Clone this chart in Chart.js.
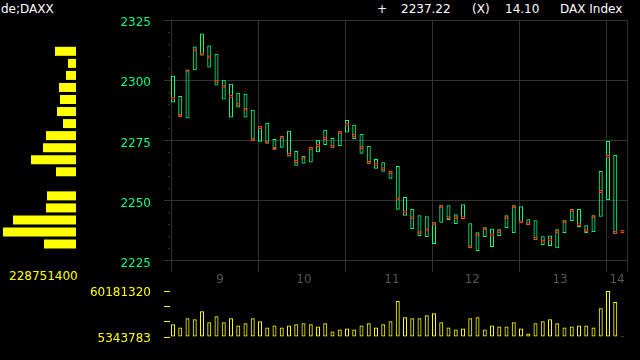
<!DOCTYPE html>
<html><head><meta charset="utf-8">
<script src="https://cdn.jsdelivr.net/npm/chart.js@4.4.1/dist/chart.umd.min.js"></script>
<style>
html,body{margin:0;padding:0;background:#000;width:640px;height:360px;overflow:hidden;}
canvas{position:absolute;}
.t{position:absolute;font:12px "DejaVu Sans";white-space:pre;line-height:14px;color:#fff;}
</style></head><body>
<div class="t" id="sym" style="left:1px;top:2px"></div>
<div class="t" id="h1" style="left:377px;top:2px"></div>
<div class="t" id="h2" style="left:401px;top:2px"></div>
<div class="t" id="h3" style="left:472px;top:2px"></div>
<div class="t" id="h4" style="left:505px;top:2px"></div>
<div class="t" id="h5" style="left:560px;top:2px"></div>
<div class="t" id="pmax" style="left:9px;top:269px;color:#ffff00"></div>
<canvas id="main" width="640" height="290" style="left:0;top:0"></canvas>
<canvas id="prof" width="80" height="290" style="left:0;top:0"></canvas>
<canvas id="vol" width="640" height="80" style="left:0;top:280px"></canvas>
<script>
// ---------------- data ----------------
const symbol = 'de;DAXX';
const indexName = 'DAX Index';
const exchangeFlag = '(X)';
const lastTime = '14.10';

const times = [
 '09:00','09:05','09:10','09:15','09:20','09:25','09:30','09:35','09:40','09:45','09:50','09:55',
 '10:00','10:05','10:10','10:15','10:20','10:25','10:30','10:35','10:40','10:45','10:50','10:55',
 '11:00','11:05','11:10','11:15','11:20','11:25','11:30','11:35','11:40','11:45','11:50','11:55',
 '12:00','12:05','12:10','12:15','12:20','12:25','12:30','12:35','12:40','12:45','12:50','12:55',
 '13:00','13:05','13:10','13:15','13:20','13:25','13:30','13:35','13:40','13:45','13:50','13:55',
 '14:00','14:05','14:10'];

const highs = [
 2301.9,2293.5,2304.4,2314.0,2319.4,2314.4,2311.0,2300.2,2298.5,2294.8,
 2294.4,2287.7,2281.0,2282.3,2275.6,2276.9,2279.0,2270.6,2268.5,2272.3,
 2275.2,2279.4,2276.0,2279.0,2283.5,2281.5,2277.7,2272.7,2267.3,2266.0,
 2262.3,2264.4,2251.5,2246.5,2244.0,2243.5,2241.0,2248.1,2248.1,2244.4,
 2248.5,2240.6,2236.9,2239.0,2238.5,2238.1,2244.0,2248.1,2247.7,2242.3,
 2241.9,2235.2,2235.6,2238.1,2241.9,2246.5,2246.5,2239.8,2244.0,2262.3,
 2274.8,2269.0,2237.22];

const lows = [
 2290.8,2284.8,2284.1,2304.1,2310.3,2305.3,2297.8,2292.0,2284.5,2288.7,
 2284.5,2274.9,2274.5,2273.7,2271.3,2272.0,2268.3,2264.5,2265.3,2265.8,
 2270.1,2273.1,2271.9,2272.7,2278.3,2275.6,2269.5,2265.3,2263.3,2262.0,
 2259.1,2246.2,2243.7,2238.3,2235.3,2234.9,2232.0,2240.8,2242.0,2240.3,
 2242.4,2230.3,2229.1,2234.9,2230.8,2235.3,2238.7,2236.6,2240.8,2239.9,
 2233.7,2231.6,2231.2,2230.3,2236.6,2241.6,2239.1,2236.6,2237.0,2243.3,
 2250.3,2236.2,2237.22];

const closes = [
 2292.5,2285.4,2303.8,2312.5,2310.9,2309.6,2299.6,2297.5,2293.3,2290.0,
 2287.9,2275.4,2280.4,2274.3,2271.7,2276.3,2269.2,2266.3,2267.7,2271.7,
 2272.9,2275.8,2272.5,2278.3,2281.7,2277.1,2272.1,2265.9,2265.1,2263.3,
 2261.7,2250.8,2245.4,2242.9,2236.7,2237.9,2240.4,2247.5,2242.9,2242.9,
 2242.9,2230.9,2235.8,2238.3,2235.8,2237.1,2242.9,2247.5,2241.3,2240.4,
 2234.3,2233.3,2233.8,2237.1,2241.3,2245.8,2240.0,2237.5,2243.3,2253.8,
 2268.3,2236.8,2237.22];

const volumes = [
 20410000,16790000,27640000,26440000,36080000,22820000,30050000,22820000,27640000,19200000,
 21610000,27640000,24020000,16790000,19200000,16790000,19200000,20410000,21610000,20410000,
 18000000,21610000,11970000,14380000,15590000,14380000,19200000,21610000,16790000,20410000,
 24020000,48130000,28850000,27640000,27640000,31260000,33670000,22820000,16790000,14380000,
 15590000,27640000,28850000,14380000,19200000,18000000,18000000,22820000,15590000,9560000,
 21610000,24020000,26440000,21610000,16790000,18000000,19200000,19200000,16790000,39690000,
 60181320,46920000,5343783];

// volume at price (bucket centre prices and volumes)
const profilePrices = [2312,2307,2302,2297,2292,2287,2282,2277,2272,2267,2262,2257,2252,2247,2242,2237,2232];
const profileVolumes = [65800000,25070000,31340000,53270000,50140000,59540000,40740000,94010000,
 103400000,141000000,62670000,0,90870000,94010000,197400000,228751400,100300000];

const priceTicks = [2225,2250,2275,2300,2325];
const hourTicks = ['9','10','11','12','13','14'];

// ---------------- layout / style constants ----------------
const PX_PER_MIN = 87/60;
const ZERO_PX = 171;              // pixel of 09:00
const BAR_SHIFT = 2/PX_PER_MIN;   // bars drawn 2px right of interval start
const MAIN_LEFT = 164, RIGHT = 627, VOL_LEFT = 170;
const X_MIN = -(ZERO_PX-MAIN_LEFT)/PX_PER_MIN;
const X_MAX = (RIGHT-ZERO_PX)/PX_PER_MIN;
const VX_MIN = -(ZERO_PX-VOL_LEFT)/PX_PER_MIN;
const Y_MIN = 2220.4, Y_MAX = 2325;
const hourLabelMin = [33.8, 91.7, 152.4, 207.8, 268.3, 307.6];
const GREEN = '#00ff80', RED = '#ff4000', YELLOW = '#ffff00', GRID = '#333333', XLAB = '#555555';
const CLEAR = 'rgba(0,0,0,0)';

Chart.defaults.font.family = '"DejaVu Sans"';
Chart.defaults.font.size = 12;
Chart.defaults.animation = false;
Chart.defaults.plugins.legend.display = false;
Chart.defaults.plugins.tooltip.enabled = false;

const toMin = t => { const [h,m] = t.split(':').map(Number); return (h-9)*60+m; };
const noPad = (s) => { s.paddingTop = 0; s.paddingBottom = 0; s.paddingLeft = 0; s.paddingRight = 0; };

// header
document.getElementById('sym').textContent = symbol;
document.getElementById('h1').textContent = '+';
document.getElementById('h2').textContent = closes[closes.length-1].toFixed(2);
document.getElementById('h3').textContent = exchangeFlag;
document.getElementById('h4').textContent = lastTime;
document.getElementById('h5').textContent = indexName;
document.getElementById('pmax').textContent = String(Math.max(...profileVolumes));

// ---------------- main price chart ----------------
const rangeData = times.map((t,i) => ({x: toMin(t)+BAR_SHIFT, y: [lows[i], highs[i]]}));
const MARK_H = 0.62;
const closeData = times.map((t,i) => ({x: toMin(t)+BAR_SHIFT, y: [closes[i]-MARK_H, closes[i]+MARK_H]}));

const hourGrid = hourTicks.map((h) => (Number(h)-9)*60);
const gridSet = new Set([...hourGrid, X_MAX]);
const labelMap = new Map(hourLabelMin.map((m,i)=>[m, hourTicks[i]]));

new Chart(document.getElementById('main'), {
  type: 'bar',
  data: { datasets: [
    { data: closeData, borderColor: RED, backgroundColor: CLEAR, borderWidth: 1, borderSkipped: false,
      barThickness: 4, grouped: false, inflateAmount: 0, order: 0 },
    { data: rangeData, borderColor: GREEN, backgroundColor: CLEAR, borderWidth: 1, borderSkipped: false,
      barThickness: 4, grouped: false, inflateAmount: 0, order: 1 }
  ]},
  options: {
    responsive: false, devicePixelRatio: 1,
    layout: { padding: { left: 0, right: 640-RIGHT, top: 20, bottom: 0 } },
    scales: {
      x: {
        type: 'linear', min: X_MIN, max: X_MAX, offset: false,
        afterBuildTicks: (s) => {
          const vals = [...hourGrid, ...hourLabelMin, X_MAX].sort((a,b)=>a-b);
          s.ticks = vals.map(v => ({value: v}));
        },
        afterFit: (s) => { s.height = 18; noPad(s); },
        grid: { offset: false, drawTicks: false, lineWidth: 1,
          color: (c) => (c.tick && gridSet.has(c.tick.value)) ? GRID : CLEAR },
        border: { display: false },
        ticks: { autoSkip: false, maxRotation: 0, color: XLAB, padding: 1,
          callback: (v) => labelMap.has(v) ? labelMap.get(v) : '' }
      },
      y: {
        type: 'linear', min: Y_MIN, max: Y_MAX, beginAtZero: false,
        afterBuildTicks: (s) => {
          const arr = [];
          for (let v = priceTicks[0]; v <= priceTicks[priceTicks.length-1]; v += 5) arr.push({value: v});
          s.ticks = arr;
        },
        afterFit: (s) => { s.width = MAIN_LEFT; noPad(s); },
        grid: { drawTicks: false, color: GRID, lineWidth: 1 },
        border: { display: false,
          dash: (c) => (c.tick && priceTicks.includes(c.tick.value)) ? [] : [0,4,2,2000] },
        ticks: { color: GREEN, padding: 13, labelOffset: 3, autoSkip: false,
          callback: (v) => priceTicks.includes(v) ? String(v) : '' }
      }
    }
  }
});

// ---------------- volume-at-price profile ----------------
new Chart(document.getElementById('prof'), {
  type: 'bar',
  data: { datasets: [{
    data: profilePrices.map((p,i) => ({x: profileVolumes[i], y: p})),
    backgroundColor: YELLOW, borderWidth: 0, barThickness: 9, inflateAmount: 0
  }]},
  options: {
    indexAxis: 'y', responsive: false, devicePixelRatio: 1,
    layout: { padding: { left: 3, right: 4, top: 20, bottom: 18 } },
    scales: {
      x: { type: 'linear', reverse: true, min: 0, max: Math.max(...profileVolumes), display: false },
      y: { type: 'linear', min: Y_MIN, max: Y_MAX, offset: false, display: false, grid: {offset: false} }
    }
  }
});

// ---------------- volume bars ----------------
const volMin = Math.min(...volumes), volMax = Math.max(...volumes);
new Chart(document.getElementById('vol'), {
  type: 'bar',
  data: { datasets: [{
    data: times.map((t,i) => ({x: toMin(t)+BAR_SHIFT, y: volumes[i]})),
    base: volMin, borderColor: YELLOW, backgroundColor: CLEAR, borderWidth: 1, borderSkipped: false,
    barThickness: 4, inflateAmount: 0, minBarLength: 1
  }]},
  options: {
    responsive: false, devicePixelRatio: 1,
    layout: { padding: { left: 0, right: 640-RIGHT, top: 11, bottom: 23 } },
    scales: {
      x: { type: 'linear', min: VX_MIN, max: X_MAX, offset: false, display: false, grid: {offset: false} },
      y: {
        type: 'linear', min: volMin, max: volMax, beginAtZero: false,
        afterBuildTicks: (s) => {
          const d = (volMax - volMin)/3;
          s.ticks = [volMin, volMin+d, volMin+2*d, volMax].map(v => ({value: v}));
        },
        afterFit: (s) => { s.width = VOL_LEFT; noPad(s); },
        grid: { drawOnChartArea: false, drawTicks: true, tickLength: 6, tickColor: YELLOW, tickWidth: 1 },
        border: { display: false },
        ticks: { color: YELLOW, padding: 13, autoSkip: false, labelOffset: 2,
          callback: (v, i) => (i === 0 || i === 3) ? String(Math.round(v)) : '' }
      }
    }
  }
});
</script>
</body></html>
